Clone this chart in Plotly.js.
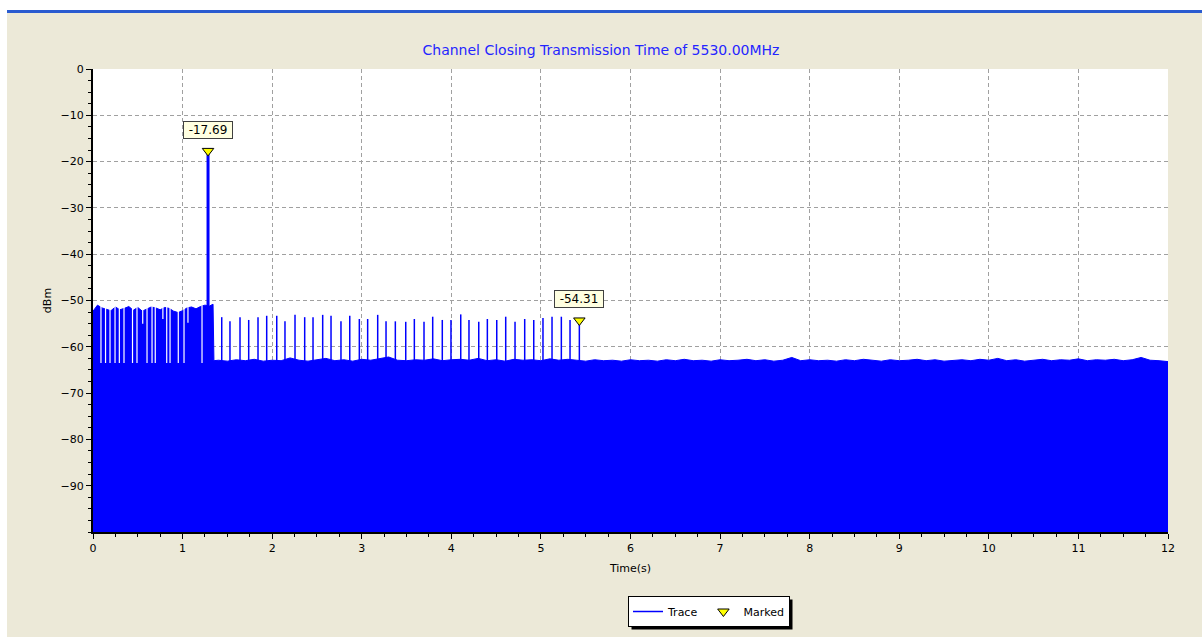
<!DOCTYPE html>
<html>
<head>
<meta charset="utf-8">
<script src="https://cdn.plot.ly/plotly-3.0.1.min.js"></script>
<style>
  html, body { margin: 0; padding: 0; background: #ffffff; }
  #chart { width: 1202px; height: 637px; }
</style>
</head>
<body>
<div id="chart"></div>
<script>
// ---- Data ----
// Upper envelope of the trace (dBm) in the burst region 0 .. 1.35 s
const earlyT = [0,0.05,0.10,0.15,0.20,0.25,0.30,0.35,0.40,0.45,0.50,0.55,0.60,0.65,0.70,0.75,0.80,0.85,0.90,0.95,1.00,1.05,1.10,1.15,1.20,1.25,1.30,1.34,1.35];
const earlyV = [-52.3,-51.0,-51.6,-51.9,-52.2,-51.4,-52.0,-51.7,-51.3,-52.1,
                -51.5,-52.3,-51.8,-51.4,-51.6,-52.0,-51.5,-51.7,-52.3,-52.6,
                -52.2,-51.6,-51.4,-51.8,-51.3,-51.0,-51.2,-50.8,-63.0];
// Upper envelope of the noise floor, sampled every 0.1 s from 1.4 s to 12.0 s
const lateStart = 1.4, lateStep = 0.1;
const lateV = [-62.9,-63.1,-62.8,-63.0,-62.7,-63.1,-62.9,-63.0,-62.4,-62.9,
               -63.1,-62.8,-62.5,-63.0,-62.8,-63.1,-62.7,-62.9,-62.6,-62.2,
               -62.9,-63.0,-62.8,-62.9,-62.6,-63.0,-62.8,-62.7,-62.9,-62.5,
               -63.0,-62.8,-63.1,-62.7,-62.9,-62.8,-63.0,-62.6,-62.9,-62.7,
               -62.9,-63.1,-62.8,-63.0,-62.9,-63.1,-62.8,-63.0,-62.9,-63.1,
               -62.8,-63.0,-62.7,-63.0,-62.9,-63.1,-62.8,-63.0,-62.9,-62.7,
               -63.0,-62.8,-63.1,-62.9,-62.3,-63.0,-62.8,-63.0,-62.9,-63.1,
               -62.8,-63.0,-62.7,-62.9,-63.1,-62.8,-63.0,-62.9,-62.7,-63.0,
               -62.8,-63.1,-62.9,-62.8,-63.0,-62.7,-62.9,-62.5,-63.0,-62.8,
               -63.1,-62.9,-62.7,-63.0,-62.8,-62.9,-62.6,-63.0,-62.8,-62.9,
               -62.7,-63.0,-62.8,-62.3,-62.9,-63.0,-63.2];
// Dropouts inside the burst region (time s, lowest level dBm)
const dropT = [0.089,0.140,0.190,0.246,0.294,0.346,0.441,0.491,0.555,0.603,0.659,0.695,0.780,0.823,0.860,0.952,1.016,1.060,1.217];
const dropV = [-63.5,-63.5,-63.5,-63.5,-63.5,-63.5,-63.5,-63.5,-55.0,-63.5,-63.5,-63.5,-54.0,-63.5,-63.5,-63.5,-63.5,-54.8,-63.5];
// Periodic spikes above the noise floor (time s, peak dBm)
const spikeT = [1.437,1.529,1.641,1.738,1.842,1.939,2.051,2.143,2.255,2.363,
                2.456,2.564,2.657,2.768,2.866,2.973,3.066,3.178,3.271,3.375,
                3.491,3.587,3.695,3.792,3.899,3.996,4.105,4.197,4.306,4.402,
                4.507,4.607,4.711,4.819,4.920,5.023,5.124,5.228,5.325,5.429];
const spikeV = [-53.6,-54.5,-53.6,-54.2,-53.6,-53.3,-53.3,-54.5,-53.1,-53.6,
                -53.6,-53.1,-53.3,-54.5,-53.3,-54.0,-54.0,-53.1,-54.5,-54.5,
                -54.6,-54.0,-54.6,-53.5,-54.2,-54.2,-53.0,-54.2,-54.6,-54.0,
                -54.2,-53.5,-54.6,-54.0,-54.2,-53.8,-53.5,-53.5,-54.2,-54.31];
// Main transmission peak
const peakT = [1.284];
const peakV = [-17.69];
// Marked points
const markT = [1.284, 5.429];
const markV = [-17.69, -54.31];

const floorLevel = -63.5;   // level the spikes rise from
const axisBottom = -100;    // bottom of the y axis

// ---- Build traces ----
const lateT = lateV.map((_, i) => +(lateStart + i * lateStep).toFixed(3));
const envT = earlyT.concat(lateT);
const envV = earlyV.concat(lateV);

function segs(ts, lo, his) {
  const x = [], y = [];
  ts.forEach((t, i) => { x.push(t, t, null); y.push(Array.isArray(lo) ? lo[i] : lo, his[i], null); });
  return {x, y};
}
const dropSeg = segs(dropT, dropV, dropT.map(() => -51.0));
const spikeSeg = segs(spikeT, floorLevel, spikeV);
const peakSeg = segs(peakT, floorLevel, peakV);

const BLUE = '#0000ff';
const FONT = 'Tahoma, "DejaVu Sans", sans-serif';

const traces = [
  {x: [0, 12], y: [axisBottom, axisBottom], mode: 'lines', line: {width: 0, color: BLUE},
   showlegend: false, hoverinfo: 'skip'},
  {x: envT, y: envV, mode: 'lines', fill: 'tonexty', fillcolor: BLUE,
   line: {color: BLUE, width: 1}, showlegend: false, hoverinfo: 'skip'},
  {x: dropSeg.x, y: dropSeg.y, mode: 'lines', line: {color: '#ffffff', width: 1.2},
   showlegend: false, hoverinfo: 'skip'},
  {x: spikeSeg.x, y: spikeSeg.y, mode: 'lines', name: 'Trace', line: {color: BLUE, width: 1.5},
   showlegend: true, legendgroup: 'trace'},
  {x: peakSeg.x, y: peakSeg.y, mode: 'lines', line: {color: BLUE, width: 3},
   showlegend: false, legendgroup: 'trace'},
  {x: markT, y: markV, mode: 'markers', name: 'Marked',
   marker: {symbol: 'triangle-down', size: 10, color: '#ffff00', line: {color: '#000000', width: 1}}}
];

const annotations = markT.map((t, i) => ({
  x: t, y: markV[i], xref: 'x', yref: 'y', text: markV[i].toFixed(2),
  showarrow: false, yshift: 21, width: 46, bgcolor: '#ffffe1', bordercolor: '#404040', borderwidth: 1, borderpad: 1,
  font: {family: FONT, size: 12, color: '#000000'}
}));

// pixel -> paper helpers for window chrome
const L = 93, R = 1168, T = 69, B = 532;
const px = v => (v - L) / (R - L);
const py = v => (B - v) / (B - T);

const shapes = [
  {type: 'rect', xref: 'paper', yref: 'paper', x0: px(-5), x1: px(1210), y0: py(10), y1: py(-5), fillcolor: '#ffffff', line: {width: 0}},
  {type: 'rect', xref: 'paper', yref: 'paper', x0: px(-5), x1: px(7), y0: py(645), y1: py(-5), fillcolor: '#ffffff', line: {width: 0}},
  {type: 'rect', xref: 'paper', yref: 'paper', x0: px(7), x1: px(1210), y0: py(13), y1: py(10), fillcolor: '#2a5bd0', line: {width: 0}}
];

const axisCommon = {
  automargin: false,
  showline: true, linecolor: '#000000', linewidth: 2, mirror: false,
  ticks: 'outside', ticklen: 5, tickcolor: '#000000', tickwidth: 1,
  showgrid: true, gridcolor: '#a0a0a0', gridwidth: 1, griddash: '4px,3px',
  zeroline: false, tickfont: {family: FONT, size: 11, color: '#000000'}
};

const layout = {
  width: 1202, height: 637,
  margin: {l: L, r: 1202 - R, t: T, b: 637 - B, autoexpand: false},
  paper_bgcolor: '#ece9d8', plot_bgcolor: '#ffffff',
  font: {family: FONT, size: 11, color: '#000000'},
  title: {text: 'Channel Closing Transmission Time of 5530.00MHz', xref: 'container', x: 0.5,
          y: 1 - 50 / 637, yanchor: 'middle', font: {family: FONT, size: 14, color: '#2525ff'}},
  xaxis: Object.assign({}, axisCommon, {
    range: [0, 12], tickmode: 'linear', tick0: 0, dtick: 1,
    minor: {tickmode: 'linear', tick0: 0, dtick: 0.25, ticks: 'outside', ticklen: 3, tickcolor: '#000000', showgrid: false},
    title: {text: 'Time(s)', font: {family: FONT, size: 11, color: '#000000'}, standoff: 10}
  }),
  yaxis: Object.assign({}, axisCommon, {
    range: [-100, 0], tickmode: 'array', tickvals: [0, -10, -20, -30, -40, -50, -60, -70, -80, -90],
    minor: {tickmode: 'linear', tick0: 0, dtick: 2.5, ticks: 'outside', ticklen: 3, tickcolor: '#000000', showgrid: false},
    title: {text: 'dBm', font: {family: FONT, size: 11, color: '#000000'}, standoff: 7}
  }),
  legend: {orientation: 'h', x: px(709), xanchor: 'center', y: py(596), yanchor: 'top',
           bgcolor: '#ffffff', bordercolor: '#000000', borderwidth: 1, itemwidth: 30,
           font: {family: FONT, size: 11, color: '#000000'}},
  annotations: annotations,
  shapes: shapes,
  showlegend: true,
  hovermode: false
};

Plotly.newPlot('chart', traces, layout, {displayModeBar: false, staticPlot: true}).then(gd => {
  // drop shadow behind the legend box, matching its rendered size
  const box = gd.querySelector('.legend .bg');
  if (box) {
    const bb = box.getBoundingClientRect();
    const root = gd.getBoundingClientRect();
    const x0 = bb.left - root.left + 3, x1 = bb.right - root.left + 3;
    const y0 = bb.top - root.top + 3, y1 = bb.bottom - root.top + 3;
    Plotly.relayout(gd, {shapes: shapes.concat([{type: 'rect', xref: 'paper', yref: 'paper',
      x0: px(x0), x1: px(x1), y0: py(y1), y1: py(y0), fillcolor: '#000000', line: {width: 0}}])});
  }
});
</script>
</body>
</html>
